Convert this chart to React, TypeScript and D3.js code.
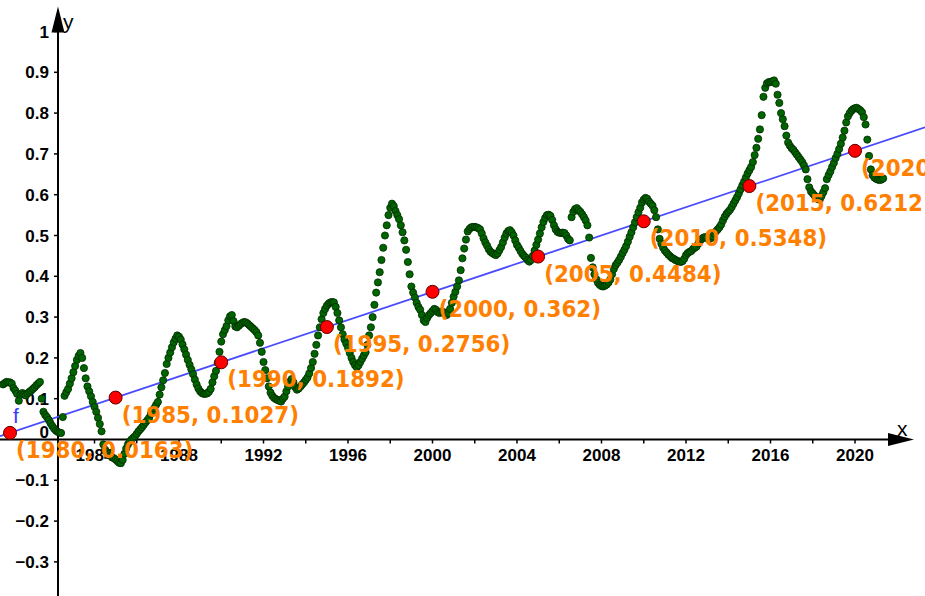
import React from "react";
import * as d3 from "d3";

// ---- data ----
// monthly smoothed anomaly values starting Sep 1979 (t = 1979 + 8/12 + k/12)
const startYear = 1979 + 8 / 12;
const monthly: number[] = [
  // 1979
  0.135, 0.138, 0.141, 0.14,
  // 1980
  0.14, 0.137, 0.126, 0.12, 0.112, 0.095, 0.11, 0.114, 0.11, 0.108, 0.113, 0.117,
  // 1981
  0.12, 0.124, 0.128, 0.133, 0.137, 0.141, 0.1, 0.068, 0.06, 0.055, 0.048, 0.04,
  // 1982
  0.033, 0.027, 0.022, 0.019, 0.017, 0.016, 0.055, 0.107, 0.116, 0.124, 0.137, 0.15,
  // 1983
  0.165, 0.18, 0.195, 0.205, 0.212, 0.2, 0.175, 0.15, 0.13, 0.118, 0.106, 0.092,
  // 1984
  0.08, 0.068, 0.053, 0.038, 0.02, -0.012, -0.025, -0.031, -0.036, -0.04, -0.043, -0.046,
  // 1985
  -0.049, -0.053, -0.057, -0.058, -0.05, -0.035, -0.022, -0.012, -0.005, 0.0, 0.004, 0.008,
  // 1986
  0.014, 0.02, 0.025, 0.03, 0.036, 0.042, 0.047, 0.053, 0.062, 0.07, 0.077, 0.085,
  // 1987
  0.092, 0.11, 0.128, 0.145, 0.163, 0.185, 0.2, 0.213, 0.226, 0.238, 0.247, 0.255,
  // 1988
  0.252, 0.245, 0.233, 0.221, 0.208, 0.195, 0.183, 0.172, 0.16, 0.147, 0.135, 0.125,
  // 1989
  0.118, 0.114, 0.112, 0.112, 0.113, 0.117, 0.124, 0.14, 0.155, 0.168, 0.188, 0.215,
  // 1990
  0.24, 0.258, 0.268, 0.278, 0.292, 0.302, 0.305, 0.29, 0.277, 0.275, 0.279, 0.283,
  // 1991
  0.286, 0.288, 0.287, 0.284, 0.28, 0.276, 0.272, 0.268, 0.263, 0.255, 0.237, 0.215,
  // 1992
  0.19, 0.17, 0.15, 0.13, 0.115, 0.107, 0.102, 0.099, 0.097, 0.095, 0.093, 0.1,
  // 1993
  0.105, 0.118, 0.13, 0.142, 0.148, 0.14, 0.128, 0.122, 0.125, 0.13, 0.135, 0.14,
  // 1994
  0.146, 0.152, 0.162, 0.175, 0.19, 0.21, 0.232, 0.255, 0.275, 0.295, 0.31, 0.32,
  // 1995
  0.328, 0.333, 0.336, 0.337, 0.336, 0.325, 0.31, 0.292, 0.275, 0.258, 0.245, 0.235,
  // 1996
  0.225, 0.212, 0.2, 0.19, 0.182, 0.177, 0.182, 0.19, 0.198, 0.206, 0.214, 0.232,
  // 1997
  0.255, 0.275, 0.3, 0.33, 0.36, 0.385, 0.41, 0.44, 0.47, 0.5, 0.525, 0.55,
  // 1998
  0.568, 0.578, 0.572, 0.56, 0.55, 0.54, 0.525, 0.508, 0.488, 0.465, 0.435, 0.405,
  // 1999
  0.375, 0.36, 0.348, 0.335, 0.325, 0.318, 0.305, 0.292, 0.288, 0.298, 0.305, 0.31,
  // 2000
  0.315, 0.32, 0.318, 0.312, 0.31, 0.312, 0.313, 0.31, 0.305, 0.31, 0.32, 0.335,
  // 2001
  0.35, 0.362, 0.375, 0.39, 0.415, 0.444, 0.468, 0.49, 0.51, 0.516, 0.52, 0.521,
  // 2002
  0.521, 0.52, 0.518, 0.515, 0.505, 0.493, 0.483, 0.475, 0.466, 0.46, 0.457, 0.454,
  // 2003
  0.452, 0.456, 0.464, 0.472, 0.483, 0.495, 0.505, 0.511, 0.513, 0.508, 0.5, 0.488,
  // 2004
  0.477, 0.47, 0.462, 0.455, 0.45, 0.446, 0.44, 0.436, 0.44, 0.45, 0.463, 0.477,
  // 2005
  0.49, 0.505, 0.52, 0.533, 0.543, 0.55, 0.551, 0.548, 0.538, 0.525, 0.515, 0.509,
  // 2006
  0.507, 0.506, 0.507, 0.506, 0.5, 0.492, 0.488, 0.545, 0.558, 0.565, 0.567, 0.562,
  // 2007
  0.558, 0.552, 0.545, 0.537, 0.525, 0.495, 0.445, 0.422, 0.405, 0.393, 0.384, 0.379,
  // 2008
  0.376, 0.375, 0.377, 0.38, 0.385, 0.392, 0.405, 0.418, 0.427, 0.433, 0.44, 0.448,
  // 2009
  0.457, 0.465, 0.474, 0.485, 0.497, 0.508, 0.52, 0.532, 0.545, 0.557, 0.568, 0.581,
  // 2010
  0.588, 0.592, 0.59, 0.583, 0.578, 0.573, 0.562, 0.545, 0.515, 0.492, 0.48, 0.47,
  // 2011
  0.463, 0.458, 0.453, 0.449, 0.445, 0.443, 0.44, 0.438, 0.436, 0.435, 0.437, 0.443,
  // 2012
  0.452, 0.457, 0.46, 0.462, 0.467, 0.47, 0.473, 0.48, 0.487, 0.492, 0.495, 0.496,
  // 2013
  0.494, 0.491, 0.493, 0.498, 0.505, 0.51, 0.515, 0.52, 0.527, 0.537, 0.546, 0.553,
  // 2014
  0.558, 0.563, 0.57, 0.578, 0.586, 0.594, 0.603, 0.613, 0.623, 0.632, 0.642, 0.652,
  // 2015
  0.66, 0.668, 0.68, 0.697, 0.715, 0.737, 0.76, 0.795, 0.84, 0.862, 0.873, 0.876,
  // 2016
  0.876, 0.878, 0.88, 0.872, 0.845, 0.825, 0.8, 0.785, 0.768, 0.745, 0.728, 0.72,
  // 2017
  0.714, 0.71, 0.704, 0.698, 0.692, 0.686, 0.68, 0.672, 0.662, 0.638, 0.618, 0.608,
  // 2018
  0.603, 0.598, 0.593, 0.589, 0.588, 0.597, 0.606, 0.616, 0.638, 0.648, 0.657, 0.668,
  // 2019
  0.678, 0.69, 0.7, 0.712, 0.725, 0.74, 0.757, 0.777, 0.792, 0.8, 0.806, 0.81,
  // 2020
  0.812, 0.813, 0.81, 0.807, 0.802, 0.79, 0.772, 0.735, 0.695, 0.662, 0.648, 0.642,
  // 2021
  0.639, 0.637, 0.636, 0.637, 0.64,
];

// points on trend line f
const pointYears = [1980, 1985, 1990, 1995, 2000, 2005, 2010, 2015, 2020];
const pointValues = [0.0163, 0.1027, 0.1892, 0.2756, 0.362, 0.4484, 0.5348, 0.6212, 0.7076];

// trend line f(x) = slope * (x - 1980) + intercept
const fSlope = 0.017283;
const fIntercept = 0.0163;

const xTickYears = [1984, 1986, 1988, 1990, 1992, 1994, 1996, 1998, 2000, 2002, 2004, 2006, 2008, 2010, 2012, 2014, 2016, 2018, 2020];
const xLabelYears = [1984, 1988, 1992, 1996, 2000, 2004, 2008, 2012, 2016, 2020];
const yTickValues = [-0.3, -0.2, -0.1, 0.1, 0.2, 0.3, 0.4, 0.5, 0.6, 0.7, 0.8, 0.9, 1];

const W = 925;
const H = 596;

export default function App() {
  const x = d3.scaleLinear().domain([1980, 2020]).range([10, 855]);
  const y = d3.scaleLinear().domain([0, 1]).range([439.5, 31.5]);

  const axisX = 58; // pixel position of vertical axis
  const y0 = y(0);

  const pts = monthly.map((v, k) => ({ t: startYear + k / 12, v }));

  const fx = (t: number) => fSlope * (t - 1980) + fIntercept;
  const tMin = x.invert(0);
  const tMax = x.invert(W);
  const lineGen = d3
    .line<number>()
    .x((t) => x(t))
    .y((t) => y(fx(t)));

  const tickFont = "'Liberation Sans', Arial, sans-serif";
  const labelFont = "'DejaVu Sans Condensed', 'DejaVu Sans', sans-serif";

  const fmtY = (v: number) => (v === 1 ? "1" : d3.format(".1f")(v).replace("-", "\u2212"));

  return (
    <div style={{ position: "absolute", left: 0, top: 0 }}>
      <svg width={W} height={H} style={{ display: "block", background: "#fff" }}>
        {/* axes */}
        <g stroke="#000" strokeWidth={2}>
          <line x1={0} y1={y0} x2={890} y2={y0} />
          <line x1={axisX} y1={H} x2={axisX} y2={30} />
        </g>
        <path d={`M914,${y0} L888,${y0 - 6.5} L888,${y0 + 6.5} Z`} fill="#000" />
        <path d={`M${axisX},6.5 L${axisX - 6.5},32.5 L${axisX + 6.5},32.5 Z`} fill="#000" />
        {/* ticks */}
        <g stroke="#000" strokeWidth={1.5}>
          {xTickYears.map((t) => (
            <line key={t} x1={x(t)} x2={x(t)} y1={y0} y2={y0 + 4} />
          ))}
          {yTickValues.map((v) => (
            <line key={v} x1={axisX - 4} x2={axisX} y1={y(v)} y2={y(v)} />
          ))}
        </g>
        <g fontFamily={tickFont} fontWeight="bold" fontSize={17} fill="#000">
          {xLabelYears.map((t) => (
            <text key={t} x={x(t)} y={y0 + 21} textAnchor="middle">
              {t}
            </text>
          ))}
          {yTickValues.map((v) => (
            <text key={v} x={49} y={y(v) + 6} textAnchor="end">
              {fmtY(v)}
            </text>
          ))}
          <text x={49} y={y0 - 2} textAnchor="end">0</text>
        </g>
        <g fontFamily={tickFont} fontSize={21} fill="#000">
          <text x={897} y={436}>x</text>
          <text x={63} y={29}>y</text>
        </g>
        {/* trend line f */}
        <path d={lineGen([tMin, tMax]) || ""} stroke="#4a4aff" strokeWidth={1.8} fill="none" />
        <text x={13} y={423} fontFamily={tickFont} fontSize={21} fill="#3a3aff">f</text>
        {/* data dots */}
        <g fill="#006400" stroke="#002a00" strokeWidth={0.8}>
          {pts.map((p, i) => (
            <circle key={i} cx={x(p.t)} cy={y(p.v)} r={3.6} />
          ))}
        </g>
        {/* points on f */}
        <g fill="#ff0000" stroke="#5a0000" strokeWidth={1}>
          {pointYears.map((t, i) => (
            <circle key={t} cx={x(t)} cy={y(pointValues[i])} r={6.5} />
          ))}
        </g>
        <g fontFamily={labelFont} fontWeight="bold" fontSize={23.8} fill="#ff8000" style={{ fontStretch: "condensed" }}>
          {pointYears.map((t, i) => (
            <text key={t} x={x(t) + 6} y={y(pointValues[i]) + 25}>
              {`(${t}, ${pointValues[i]})`}
            </text>
          ))}
        </g>
      </svg>
    </div>
  );
}
